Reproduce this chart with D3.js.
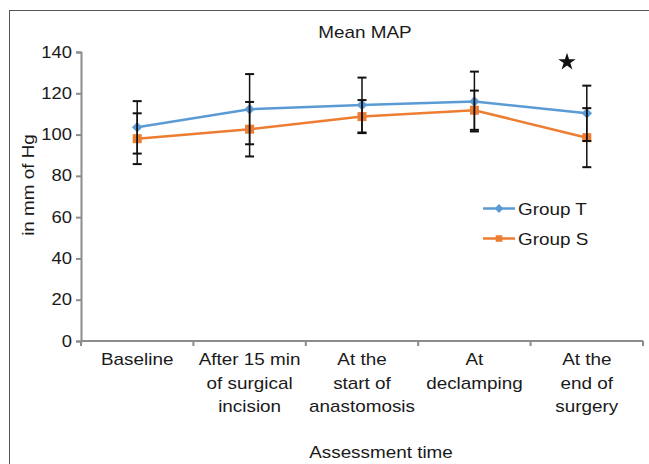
<!DOCTYPE html>
<html>
<head>
<meta charset="utf-8">
<script src="https://cdn.jsdelivr.net/npm/d3@7"></script>
<style>
  body { margin: 0; background: #fff; }
  text { font-family: "Liberation Sans", Arial, sans-serif; fill: #1a1a1a; }
</style>
</head>
<body>
<div id="chart"></div>
<script>
// data
var categories = [
  ["Baseline"],
  ["After 15 min", "of surgical", "incision"],
  ["At the", "start of", "anastomosis"],
  ["At", "declamping"],
  ["At the", "end of", "surgery"]
];
var groupT = [103.5, 112.3, 114.3, 116.0, 110.3];
var groupTErr = [12.7, 17.0, 13.3, 14.5, 13.4];
var groupS = [98.0, 102.6, 108.7, 111.8, 98.5];
var groupSErr = [12.3, 13.2, 8.0, 9.5, 14.3];
var yTicks = [0, 20, 40, 60, 80, 100, 120, 140];

var svgWidth = 649;
var svgHeight = 464;
var stretch = 1.18;   // the source font renders wider than Arial

var svg = d3.select("#chart")
  .append("svg")
  .attr("width", svgWidth)
  .attr("height", svgHeight);

// outer frame
svg.append("rect")
  .attr("x", 9.5)
  .attr("y", 10.5)
  .attr("width", 700)
  .attr("height", 500)
  .attr("fill", "none")
  .attr("stroke", "#555")
  .attr("stroke-width", 1);

var idx = d3.range(categories.length);

var xScale = d3.scaleBand()
  .domain(idx)
  .range([81, 643])
  .padding(0);

var yScale = d3.scaleLinear()
  .domain([0, 140])
  .range([341, 52]);

var cx = function(i) { return xScale(i) + xScale.bandwidth() / 2; };

// y axis
var yAxis = svg.append("g")
  .attr("transform", "translate(81,0)")
  .call(d3.axisLeft(yScale).tickValues(yTicks).tickSize(5).tickPadding(4));

yAxis.selectAll("text")
  .style("font-size", "16px")
  .attr("fill", "#1a1a1a")
  .attr("transform", "translate(-9,0) scale(1.15,1)")
  .attr("x", 0);

// x axis
var xAxis = svg.append("g")
  .attr("transform", "translate(0,341)");

xAxis.append("line")
  .attr("x1", 81).attr("x2", 643)
  .attr("y1", 0).attr("y2", 0);

xAxis.selectAll(".xtick")
  .data(d3.range(categories.length + 1))
  .enter()
  .append("line")
  .attr("class", "xtick")
  .attr("x1", d => d < categories.length ? xScale(d) : xScale(d - 1) + xScale.bandwidth())
  .attr("x2", d => d < categories.length ? xScale(d) : xScale(d - 1) + xScale.bandwidth())
  .attr("y1", 0)
  .attr("y2", 5);

svg.selectAll(".domain, .tick line, g line")
  .attr("stroke", "#8c8c8c")
  .attr("stroke-width", 2);

var catLabels = svg.append("g")
  .selectAll("text")
  .data(categories)
  .enter()
  .append("text")
  .attr("transform", (d, i) => `translate(${cx(i)},365) scale(${stretch},1)`)
  .attr("text-anchor", "middle")
  .style("font-size", "16px");

catLabels.selectAll("tspan")
  .data(d => d)
  .enter()
  .append("tspan")
  .attr("x", 0)
  .attr("y", (d, j) => j * 23.6)
  .text(d => d);

// axis titles
svg.append("text")
  .attr("transform", `translate(381,457.5) scale(${stretch},1)`)
  .attr("text-anchor", "middle")
  .style("font-size", "16px")
  .text("Assessment time");

svg.append("text")
  .attr("transform", `translate(34,185) rotate(-90) scale(${stretch},1)`)
  .attr("text-anchor", "middle")
  .style("font-size", "16px")
  .text("in mm of Hg");

svg.append("text")
  .attr("transform", `translate(365,37.5) scale(${stretch},1)`)
  .attr("text-anchor", "middle")
  .style("font-size", "16px")
  .text("Mean MAP");

// lines
var line = d3.line()
  .x((d, i) => cx(i))
  .y(d => yScale(d));

svg.append("path")
  .datum(groupT)
  .attr("fill", "none")
  .attr("stroke", "#5B9BD5")
  .attr("stroke-width", 2.5)
  .attr("d", line);

svg.append("path")
  .datum(groupS)
  .attr("fill", "none")
  .attr("stroke", "#ED7D31")
  .attr("stroke-width", 2.5)
  .attr("d", line);

// markers
svg.selectAll(".markT")
  .data(groupT)
  .enter()
  .append("path")
  .attr("class", "markT")
  .attr("d", d3.symbol().type(d3.symbolDiamond2).size(70))
  .attr("transform", (d, i) => `translate(${cx(i)},${yScale(d)})`)
  .attr("fill", "#5B9BD5");

svg.selectAll(".markS")
  .data(groupS)
  .enter()
  .append("rect")
  .attr("class", "markS")
  .attr("x", (d, i) => cx(i) - 4.5)
  .attr("y", d => yScale(d) - 4.5)
  .attr("width", 9)
  .attr("height", 9)
  .attr("fill", "#ED7D31");

// error bars
function errorBars(values, errs) {
  var g = svg.append("g")
    .attr("stroke", "#111")
    .attr("stroke-width", 1.5);
  values.forEach(function(v, i) {
    var x = cx(i);
    var top = yScale(v + errs[i]);
    var bot = yScale(v - errs[i]);
    g.append("line").attr("x1", x).attr("x2", x).attr("y1", top).attr("y2", bot);
    g.append("line").attr("x1", x - 4.5).attr("x2", x + 4.5).attr("y1", top).attr("y2", top).attr("stroke-width", 2);
    g.append("line").attr("x1", x - 4.5).attr("x2", x + 4.5).attr("y1", bot).attr("y2", bot).attr("stroke-width", 2);
  });
}
errorBars(groupT, groupTErr);
errorBars(groupS, groupSErr);

// significance star
svg.append("path")
  .attr("d", d3.symbol().type(d3.symbolStar).size(95))
  .attr("transform", "translate(567,62)")
  .attr("fill", "#111");

// legend
var legendData = [
  { name: "Group T", color: "#5B9BD5", y: 208.5, shape: "diamond" },
  { name: "Group S", color: "#ED7D31", y: 238.5, shape: "square" }
];

var legend = svg.selectAll(".legend")
  .data(legendData)
  .enter()
  .append("g")
  .attr("class", "legend")
  .attr("transform", d => `translate(0,${d.y})`);

legend.append("line")
  .attr("x1", 483).attr("x2", 515)
  .attr("y1", 0).attr("y2", 0)
  .attr("stroke", d => d.color)
  .attr("stroke-width", 2.5);

legend.append("path")
  .attr("d", d => d.shape === "diamond"
    ? d3.symbol().type(d3.symbolDiamond2).size(50)()
    : d3.symbol().type(d3.symbolSquare2).size(55)())
  .attr("transform", "translate(499,0)")
  .attr("fill", d => d.color);

legend.append("text")
  .attr("transform", `translate(518,6) scale(${stretch},1)`)
  .style("font-size", "16px")
  .text(d => d.name);
</script>
</body>
</html>
